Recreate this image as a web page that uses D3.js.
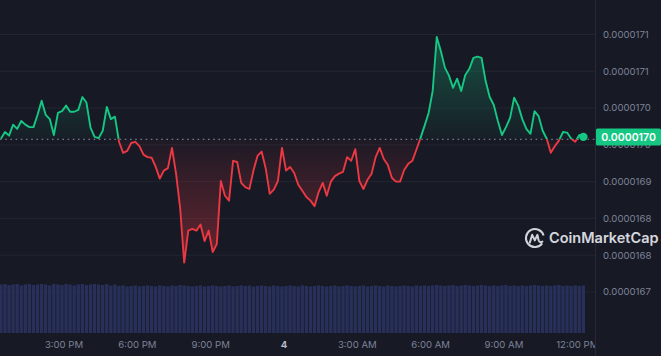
<!DOCTYPE html>
<html><head><meta charset="utf-8">
<script src="https://cdn.jsdelivr.net/npm/d3@7"></script>
<style>html,body{margin:0;padding:0;background:#171924;overflow:hidden}svg{display:block}</style>
</head><body><svg id="c" width="661" height="356"></svg>
<script>
// ---- data: 24h price, 10-minute samples ----
const prices = [
1.6970e-5,1.6981e-5,1.6975e-5,1.6993e-5,1.6986e-5,1.6999e-5,1.6993e-5,1.6989e-5,1.6989e-5,1.7009e-5,
1.7032e-5,1.7009e-5,1.7002e-5,1.6976e-5,1.7012e-5,1.7015e-5,1.7024e-5,1.7014e-5,1.7014e-5,1.7017e-5,
1.7038e-5,1.7029e-5,1.6988e-5,1.6973e-5,1.6971e-5,1.6983e-5,1.7022e-5,1.7002e-5,1.7006e-5,1.6965e-5,
1.6947e-5,1.6950e-5,1.6963e-5,1.6965e-5,1.6958e-5,1.6944e-5,1.6940e-5,1.6939e-5,1.6924e-5,1.6905e-5,
1.6918e-5,1.6922e-5,1.6955e-5,1.6913e-5,1.6857e-5,1.6768e-5,1.6820e-5,1.6823e-5,1.6820e-5,1.6830e-5,
1.6803e-5,1.6820e-5,1.6785e-5,1.6798e-5,1.6901e-5,1.6877e-5,1.6869e-5,1.6934e-5,1.6932e-5,1.6898e-5,
1.6891e-5,1.6888e-5,1.6918e-5,1.6942e-5,1.6949e-5,1.6922e-5,1.6880e-5,1.6887e-5,1.6901e-5,1.6955e-5,
1.6918e-5,1.6924e-5,1.6914e-5,1.6895e-5,1.6885e-5,1.6875e-5,1.6869e-5,1.6860e-5,1.6883e-5,1.6898e-5,
1.6877e-5,1.6900e-5,1.6909e-5,1.6913e-5,1.6916e-5,1.6940e-5,1.6934e-5,1.6953e-5,1.6901e-5,1.6888e-5,
1.6903e-5,1.6913e-5,1.6940e-5,1.6955e-5,1.6937e-5,1.6927e-5,1.6906e-5,1.6900e-5,1.6900e-5,1.6919e-5,
1.6929e-5,1.6934e-5,1.6952e-5,1.6971e-5,1.6991e-5,1.7012e-5,1.7048e-5,1.7136e-5,1.7113e-5,1.7086e-5,
1.7073e-5,1.7053e-5,1.7068e-5,1.7048e-5,1.7074e-5,1.7084e-5,1.7102e-5,1.7104e-5,1.7102e-5,1.7064e-5,
1.7038e-5,1.7025e-5,1.6999e-5,1.6976e-5,1.6989e-5,1.7004e-5,1.7037e-5,1.7024e-5,1.7002e-5,1.6986e-5,
1.6978e-5,1.7015e-5,1.7007e-5,1.6983e-5,1.6970e-5,1.6947e-5,1.6958e-5,1.6967e-5,1.6981e-5,1.6980e-5,
1.6970e-5,1.6965e-5,1.6976e-5,1.6973e-5
];
const volumes = [
99,100,98,99,100,97,99,100,98,99,100,99,97,100,99,98,100,99,97,99,
100,98,99,100,99,98,100,97,99,96,97,95,96,97,95,96,97,96,95,97,
96,95,97,96,98,97,96,95,96,97,95,96,97,96,95,96,97,95,96,97,
96,97,95,96,97,96,95,97,96,95,96,97,96,95,97,96,95,96,97,96,
95,96,97,95,96,97,96,95,96,97,95,96,97,96,95,97,96,95,96,97,
96,95,97,96,97,96,97,98,97,96,97,98,96,97,98,97,96,97,98,97,
96,97,96,97,98,96,97,96,97,96,97,98,97,96,97,96,97,98,96,97,
96,97,96,97
];
const refPrice = 1.6969e-5;           // 24h open reference (dotted line)
const lastLabel = "0.0000170";
const yTicks = [1.714e-5,1.708e-5,1.702e-5,1.696e-5,1.690e-5,1.684e-5,1.678e-5,1.672e-5];
const startTime = new Date(2024,0,3,12,25);
const stepMinutes = 10;

// ---- layout ----
const W = 661, H = 356, plotRight = 595;
const GREEN = "#16c784", RED = "#ea3943";
const svg = d3.select("#c");
const data = prices.map((p,i)=>({t:new Date(+startTime + i*stepMinutes*60000), p, v:volumes[i]}));
const t0 = data[0].t, t1 = data[data.length-1].t;

const x = d3.scaleTime().domain([t0,t1]).range([0.9,583.4]);
const y = d3.scaleLinear().domain([1.672e-5,1.714e-5]).range([292,34.5]);
const yv = d3.scaleLinear().domain([0,100]).range([333,284]);
const by = y(refPrice);

svg.append("rect").attr("width",W).attr("height",H).attr("fill","#171924");

const defs = svg.append("defs");
const gG = defs.append("linearGradient").attr("id","gG").attr("gradientUnits","userSpaceOnUse")
  .attr("x1",0).attr("x2",0).attr("y1",y(1.7136e-5)).attr("y2",by);
gG.append("stop").attr("offset",0).attr("stop-color",GREEN).attr("stop-opacity",0.32);
gG.append("stop").attr("offset",1).attr("stop-color",GREEN).attr("stop-opacity",0.03);
const gR = defs.append("linearGradient").attr("id","gR").attr("gradientUnits","userSpaceOnUse")
  .attr("x1",0).attr("x2",0).attr("y1",by).attr("y2",y(1.6768e-5));
gR.append("stop").attr("offset",0).attr("stop-color",RED).attr("stop-opacity",0.03);
gR.append("stop").attr("offset",1).attr("stop-color",RED).attr("stop-opacity",0.38);
defs.append("clipPath").attr("id","above").append("rect").attr("x",0).attr("y",0).attr("width",plotRight).attr("height",by);
defs.append("clipPath").attr("id","below").append("rect").attr("x",0).attr("y",by).attr("width",plotRight).attr("height",H-by);
defs.append("clipPath").attr("id","plotclip").append("rect").attr("x",0).attr("y",0).attr("width",plotRight).attr("height",H);

// grid
svg.append("g").selectAll("line").data(yTicks).join("line")
  .attr("x1",0).attr("x2",plotRight).attr("y1",d=>y(d)).attr("y2",d=>y(d))
  .attr("stroke","#232632").attr("stroke-width",1);
svg.append("line").attr("x1",plotRight+0.5).attr("x2",plotRight+0.5).attr("y1",0).attr("y2",H)
  .attr("stroke","#262a36").attr("stroke-width",1);

// volume bars
const bw = (x(data[1].t)-x(data[0].t));
svg.append("g").selectAll("rect").data(data).join("rect")
  .attr("x",d=>x(d.t)-bw/2+0.3).attr("width",bw-0.7)
  .attr("y",d=>yv(d.v)).attr("height",d=>yv(0)-yv(d.v))
  .attr("fill","#28305a");

// areas
const area = d3.area().x(d=>x(d.t)).y0(by).y1(d=>y(d.p));
const line = d3.line().x(d=>x(d.t)).y(d=>y(d.p));
svg.append("path").datum(data).attr("d",area).attr("fill","url(#gG)").attr("clip-path","url(#above)");
svg.append("path").datum(data).attr("d",area).attr("fill","url(#gR)").attr("clip-path","url(#below)");

// reference dotted line
svg.append("line").attr("x1",0).attr("x2",plotRight).attr("y1",by).attr("y2",by)
  .attr("stroke","#8a90a6").attr("stroke-width",1.2).attr("stroke-dasharray","1.6,3.6").attr("opacity",0.8);

// price line
svg.append("path").datum(data).attr("d",line).attr("fill","none").attr("stroke",GREEN)
  .attr("stroke-width",1.9).attr("stroke-linejoin","round").attr("clip-path","url(#above)");
svg.append("path").datum(data).attr("d",line).attr("fill","none").attr("stroke",RED)
  .attr("stroke-width",1.9).attr("stroke-linejoin","round").attr("clip-path","url(#below)");

const last = data[data.length-1];
svg.append("circle").attr("cx",x(last.t)).attr("cy",y(last.p)).attr("r",4.2).attr("fill",GREEN);

// y axis labels
const fmt = d3.format(".7f");
svg.append("g").selectAll("text").data(yTicks).join("text")
  .attr("x",603).attr("y",d=>y(d)).attr("dy","0.35em")
  .attr("font-family","Inter, 'Noto Sans', sans-serif").attr("font-size",9.6)
  .attr("fill","#7d8398").text(d=>fmt(d));

// last price badge
const badgeY = y(last.p);
svg.append("rect").attr("x",596).attr("y",badgeY-8.5).attr("width",65).attr("height",17)
  .attr("rx",1.5).attr("fill",GREEN);
svg.append("text").attr("x",628.5).attr("y",badgeY).attr("dy","0.36em").attr("text-anchor","middle")
  .attr("font-family","Inter, 'Noto Sans', sans-serif").attr("font-size",10.5).attr("font-weight",600)
  .attr("fill","#ffffff").text(lastLabel);

// x axis labels
const xt = d3.timeHour.every(3).range(t0, t1);
const xf = d=> d.getHours()===0 ? d3.timeFormat("%-d")(d) : d3.timeFormat("%-I:%M %p")(d);
svg.append("g").attr("clip-path","url(#plotclip)").selectAll("text").data(xt).join("text")
  .attr("x",d=>x(d)).attr("y",345).attr("dy","0.35em").attr("text-anchor","middle")
  .attr("font-family","Inter, 'Noto Sans', sans-serif").attr("font-size",9.6)
  .attr("font-weight",d=>d.getHours()===0?700:400)
  .attr("fill",d=>d.getHours()===0?"#b6bbcb":"#7d8398").text(xf);

// watermark
const wm = svg.append("g").attr("transform","translate(535,238)").attr("opacity",0.9);
wm.append("path").attr("d","M7.2,5.4 A9,9 0 1 1 8.6,-2.4").attr("fill","none").attr("stroke","#e6e8ee").attr("stroke-width",2);
wm.append("path").attr("d","M-5.2,4.6 L-2.8,-3.2 L-0.2,2.4 L2.4,-3.2 L3.6,2.2 Q4.6,5.2 7.4,3.6")
  .attr("fill","none").attr("stroke","#e6e8ee").attr("stroke-width",2).attr("stroke-linejoin","round").attr("stroke-linecap","round");
svg.append("text").attr("x",549).attr("y",238).attr("dy","0.36em")
  .attr("font-family","Inter, 'Noto Sans', sans-serif").attr("font-size",14.5).attr("font-weight",600)
  .attr("fill","#e6e8ee").attr("opacity",0.92).text("CoinMarketCap");
</script></body></html>
